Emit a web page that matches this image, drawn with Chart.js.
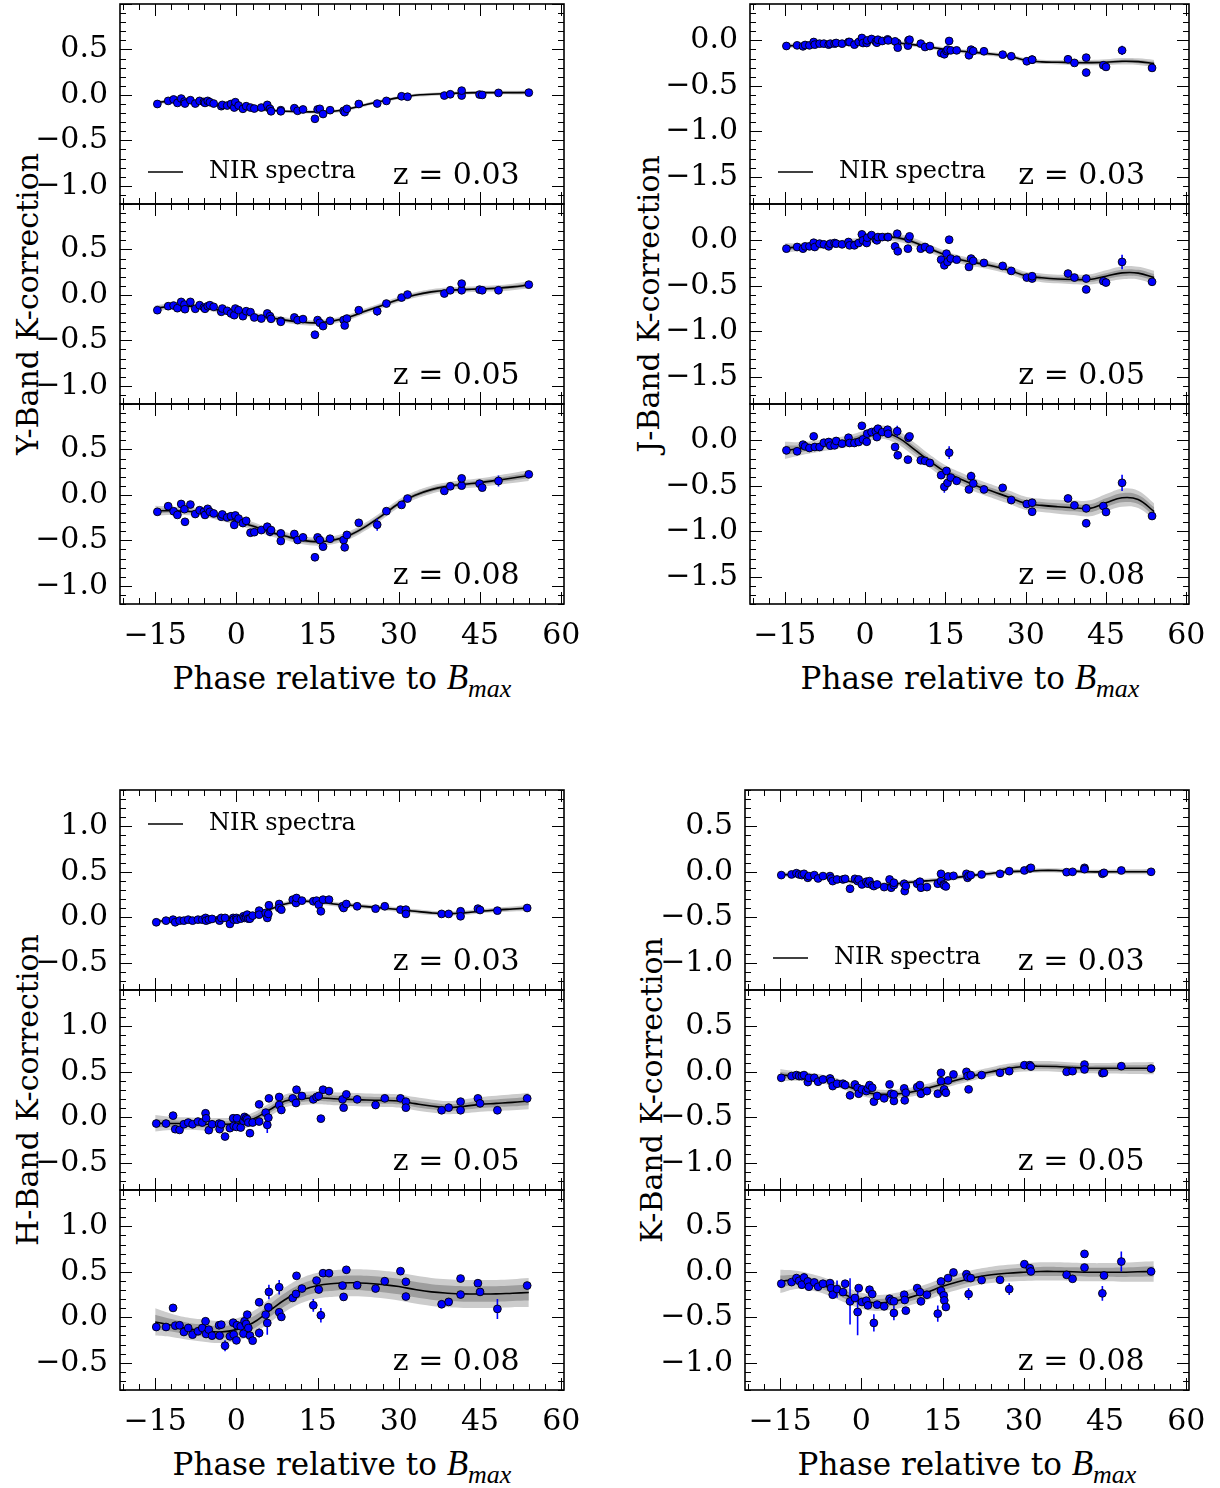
<!DOCTYPE html>
<html>
<head>
<meta charset="utf-8">
<script src="https://cdn.jsdelivr.net/npm/chart.js@4.4.1/dist/chart.umd.min.js"></script>
<style>
  body { margin: 0; background: #fff; width: 1220px; height: 1488px; position: relative; overflow: hidden; font-family: 'DejaVu Serif', serif; }
  canvas { position: absolute; }
  .ylab { position: absolute; font-size: 30px; white-space: nowrap; transform: translate(-50%, -50%) rotate(-90deg); }
  .xlab { position: absolute; font-size: 31px; white-space: nowrap; transform: translate(-50%, -50%); }
  .xlab i { font-family: 'Liberation Serif', serif; font-size: 35px; }
  .xlab sub { font-size: 26px; }
</style>
</head>
<body>
<div class="ylab" style="left:27px;top:304px">Y-Band K-correction</div>
<div class="ylab" style="left:648px;top:304px">J-Band K-correction</div>
<div class="ylab" style="left:27px;top:1090px">H-Band K-correction</div>
<div class="ylab" style="left:651px;top:1090px">K-Band K-correction</div>
<div class="xlab" style="left:342px;top:681px">Phase relative to <i>B<sub>max</sub></i></div>
<div class="xlab" style="left:970px;top:681px">Phase relative to <i>B<sub>max</sub></i></div>
<div class="xlab" style="left:342px;top:1467px">Phase relative to <i>B<sub>max</sub></i></div>
<div class="xlab" style="left:967px;top:1467px">Phase relative to <i>B<sub>max</sub></i></div>
<script>
// tick labels
const xTicks = [-15, 0, 15, 30, 45, 60];
const yTicksY = [-1.0, -0.5, 0.0, 0.5];
const yTicksJ = [-1.5, -1.0, -0.5, 0.0];
const yTicksH = [-0.5, 0.0, 0.5, 1.0];
const yTicksK = [-1.0, -0.5, 0.0, 0.5];

const fitPhase = [-15,-12,-9,-6,-3,0,3,6,9,12,15,18,21,24,27,30,33,36,39,42,45,48,51,54];

// ---------- Y band ----------
const yPhase = [-14.6,-12.6,-11.6,-10.9,-10.2,-9.6,-9.5,-8.5,-7.6,-6.8,-6.0,-5.8,-5.3,-4.9,-4.2,-2.8,-2.6,-1.7,-1.0,-0.4,-0.2,0.4,1.2,1.8,2.6,3.3,4.6,5.7,6.2,6.4,8.2,8.2,10.7,11.3,12.3,14.5,15.0,15.4,16.0,17.3,19.8,20.0,20.4,22.6,26.0,27.7,30.5,31.6,38.4,39.5,41.6,41.6,44.9,45.4,48.4,54.0];
const yK003 = [-0.10,-0.066,-0.05,-0.088,-0.04,-0.073,-0.095,-0.058,-0.095,-0.066,-0.077,-0.088,-0.066,-0.08,-0.095,-0.124,-0.11,-0.117,-0.10,-0.139,-0.08,-0.117,-0.153,-0.124,-0.139,-0.15,-0.139,-0.11,-0.153,-0.18,-0.168,-0.18,-0.146,-0.175,-0.16,-0.263,-0.16,-0.153,-0.21,-0.168,-0.175,-0.19,-0.153,-0.10,-0.095,-0.066,-0.015,-0.02,-0.007,0.007,-0.007,0.047,0.004,0.0,0.022,0.025];
const yK005 = [-0.168,-0.124,-0.117,-0.146,-0.077,-0.106,-0.157,-0.077,-0.153,-0.113,-0.139,-0.153,-0.124,-0.113,-0.131,-0.186,-0.15,-0.175,-0.204,-0.223,-0.15,-0.168,-0.234,-0.179,-0.19,-0.248,-0.26,-0.204,-0.234,-0.263,-0.285,-0.296,-0.248,-0.277,-0.266,-0.438,-0.277,-0.307,-0.343,-0.285,-0.277,-0.336,-0.26,-0.168,-0.179,-0.095,-0.029,0.004,0.015,0.051,0.051,0.124,0.058,0.051,0.051,0.113];
const yK008 = [-0.186,-0.124,-0.18,-0.22,-0.10,-0.157,-0.296,-0.106,-0.21,-0.168,-0.186,-0.22,-0.153,-0.186,-0.204,-0.24,-0.215,-0.248,-0.234,-0.33,-0.226,-0.26,-0.31,-0.285,-0.416,-0.41,-0.387,-0.35,-0.405,-0.387,-0.423,-0.507,-0.43,-0.496,-0.467,-0.686,-0.467,-0.496,-0.569,-0.482,-0.496,-0.577,-0.44,-0.307,-0.328,-0.179,-0.11,-0.04,0.044,0.095,0.102,0.182,0.124,0.08,0.153,0.226];
// visible error bars: [point index, half length]
const yErr003 = [];
const yErr005 = [[44,0.05],[54,0.04]];
const yErr008 = [[19,0.045],[28,0.05],[41,0.04],[44,0.065],[54,0.06]];
const yFit003 = [-0.088,-0.066,-0.07,-0.088,-0.11,-0.13,-0.15,-0.168,-0.18,-0.186,-0.186,-0.18,-0.15,-0.106,-0.066,-0.03,-0.004,0.007,0.015,0.022,0.025,0.025,0.025,0.026];
const yFit005 = [-0.15,-0.124,-0.124,-0.139,-0.168,-0.193,-0.223,-0.248,-0.277,-0.30,-0.307,-0.285,-0.24,-0.175,-0.113,-0.051,0.0,0.033,0.051,0.058,0.066,0.073,0.088,0.11];
const yFit008 = [-0.175,-0.175,-0.18,-0.197,-0.24,-0.285,-0.343,-0.405,-0.453,-0.496,-0.515,-0.496,-0.44,-0.343,-0.223,-0.095,-0.004,0.058,0.095,0.117,0.135,0.16,0.186,0.212];
const yIn003  = [0.010,0.009,0.009,0.009,0.009,0.009,0.009,0.009,0.009,0.009,0.009,0.009,0.009,0.009,0.009,0.009,0.009,0.009,0.009,0.009,0.009,0.010,0.010,0.011];
const yOut003 = [0.020,0.018,0.018,0.018,0.018,0.018,0.018,0.018,0.018,0.018,0.018,0.018,0.018,0.018,0.018,0.018,0.018,0.018,0.018,0.018,0.018,0.019,0.020,0.022];
const yIn005  = [0.018,0.015,0.015,0.015,0.015,0.015,0.015,0.015,0.015,0.015,0.015,0.015,0.015,0.015,0.015,0.015,0.015,0.015,0.015,0.015,0.016,0.017,0.018,0.020];
const yOut005 = [0.036,0.030,0.030,0.030,0.030,0.030,0.030,0.030,0.030,0.030,0.030,0.030,0.030,0.030,0.030,0.030,0.030,0.030,0.030,0.031,0.032,0.034,0.036,0.040];
const yIn008  = [0.028,0.022,0.022,0.022,0.022,0.022,0.022,0.022,0.022,0.022,0.022,0.022,0.022,0.022,0.022,0.022,0.022,0.022,0.022,0.023,0.024,0.026,0.028,0.030];
const yOut008 = [0.055,0.044,0.044,0.044,0.044,0.044,0.044,0.044,0.044,0.044,0.044,0.044,0.044,0.044,0.044,0.044,0.044,0.044,0.044,0.046,0.048,0.052,0.056,0.060];

// ---------- J band ----------
const jPhase = [-14.7,-12.7,-11.6,-11.2,-10.4,-9.6,-9.4,-8.5,-7.7,-6.8,-6.5,-5.7,-5.4,-4.3,-3.1,-2.9,-2.0,-1.2,-0.6,-0.4,0.3,0.4,1.2,2.0,2.2,2.4,3.2,4.2,4.3,6.0,5.6,6.1,8.0,8.1,8.3,10.4,11.2,12.1,14.2,14.8,15.2,15.4,15.7,16.0,17.1,19.4,19.8,20.2,22.2,25.7,27.3,30.2,31.2,31.2,37.9,39.1,41.3,41.3,44.5,45.0,48.0,53.6];
const jK003 = [-0.062,-0.055,-0.066,-0.051,-0.055,-0.018,-0.047,-0.036,-0.036,-0.047,-0.036,-0.036,-0.029,-0.036,-0.018,-0.018,-0.047,-0.018,0.026,-0.029,-0.029,0.0,0.015,-0.015,-0.026,0.007,-0.007,0.011,0.0,-0.029,-0.011,-0.08,-0.058,0.0,0.007,-0.036,-0.073,-0.062,-0.139,-0.153,-0.117,-0.102,-0.007,-0.11,-0.11,-0.164,-0.102,-0.117,-0.12,-0.157,-0.175,-0.23,-0.212,-0.212,-0.208,-0.248,-0.19,-0.354,-0.274,-0.292,-0.11,-0.303];
const jK005 = [-0.091,-0.073,-0.091,-0.066,-0.066,-0.026,-0.073,-0.036,-0.044,-0.066,-0.036,-0.029,-0.036,-0.044,-0.018,-0.055,-0.055,-0.029,0.066,0.0,-0.029,0.029,0.058,0.011,0.0,0.036,0.036,0.036,0.036,0.073,-0.066,-0.12,-0.091,0.018,0.044,-0.091,-0.073,-0.10,-0.212,-0.274,-0.146,-0.237,0.007,-0.20,-0.212,-0.292,-0.20,-0.226,-0.248,-0.281,-0.336,-0.409,-0.42,-0.394,-0.365,-0.409,-0.42,-0.54,-0.449,-0.464,-0.237,-0.456];
const jK008 = [-0.11,-0.12,-0.047,-0.066,-0.084,0.044,-0.073,-0.073,-0.026,-0.018,-0.058,-0.055,-0.007,-0.036,0.029,-0.029,-0.029,-0.018,0.16,0.011,-0.015,0.073,0.091,0.10,0.036,0.128,0.091,0.117,0.073,0.10,-0.073,-0.164,-0.212,0.029,0.044,-0.219,-0.226,-0.248,-0.383,-0.511,-0.336,-0.467,-0.135,-0.409,-0.445,-0.54,-0.394,-0.474,-0.54,-0.522,-0.657,-0.70,-0.686,-0.785,-0.639,-0.715,-0.748,-0.912,-0.723,-0.788,-0.467,-0.832];
const jErr003 = [[60,0.05]];
const jErr005 = [[29,0.02],[60,0.08]];
const jErr008 = [[29,0.06],[39,0.065],[42,0.07],[46,0.05],[49,0.025],[60,0.09]];
const jFit003 = [-0.062,-0.055,-0.044,-0.036,-0.026,-0.011,-0.018,-0.029,-0.047,-0.073,-0.10,-0.12,-0.135,-0.153,-0.175,-0.219,-0.237,-0.241,-0.245,-0.245,-0.241,-0.23,-0.234,-0.255];
const jFit005 = [-0.084,-0.073,-0.058,-0.044,-0.025,0.0,0.036,0.03,-0.018,-0.09,-0.16,-0.215,-0.25,-0.285,-0.33,-0.39,-0.412,-0.425,-0.43,-0.43,-0.394,-0.358,-0.36,-0.409];
const jFit008 = [-0.11,-0.091,-0.066,-0.036,-0.007,0.044,0.091,0.036,-0.091,-0.226,-0.347,-0.43,-0.504,-0.566,-0.628,-0.693,-0.715,-0.73,-0.741,-0.748,-0.686,-0.631,-0.65,-0.785];
const jIn003  = [0.013,0.011,0.011,0.011,0.011,0.011,0.011,0.011,0.011,0.011,0.011,0.011,0.011,0.011,0.011,0.011,0.012,0.012,0.013,0.014,0.016,0.018,0.018,0.020];
const jOut003 = [0.026,0.022,0.022,0.022,0.022,0.022,0.022,0.022,0.022,0.022,0.022,0.022,0.022,0.022,0.022,0.022,0.024,0.024,0.026,0.028,0.032,0.036,0.036,0.040];
const jIn005  = [0.026,0.020,0.020,0.020,0.020,0.020,0.022,0.022,0.022,0.022,0.022,0.022,0.022,0.022,0.022,0.022,0.024,0.024,0.026,0.028,0.032,0.036,0.036,0.038];
const jOut005 = [0.052,0.040,0.040,0.040,0.040,0.040,0.044,0.044,0.044,0.044,0.044,0.044,0.044,0.044,0.044,0.044,0.048,0.048,0.052,0.056,0.064,0.070,0.070,0.075];
const jIn008  = [0.050,0.036,0.032,0.032,0.032,0.034,0.036,0.038,0.038,0.036,0.036,0.036,0.036,0.036,0.036,0.036,0.036,0.038,0.040,0.044,0.048,0.050,0.050,0.050];
const jOut008 = [0.095,0.072,0.064,0.064,0.064,0.068,0.072,0.076,0.076,0.073,0.073,0.073,0.073,0.073,0.073,0.073,0.073,0.076,0.080,0.088,0.095,0.100,0.095,0.090];

// ---------- H band ----------
const hPhase = [-14.8,-13.0,-11.7,-11.3,-10.5,-9.7,-8.9,-8.1,-7.1,-6.3,-5.7,-5.6,-5.1,-4.5,-3.2,-3.1,-2.8,-2.1,-1.2,-0.6,-0.5,0.0,0.1,0.8,1.3,1.5,1.8,2.0,2.2,2.5,3.0,4.2,4.2,5.4,5.7,5.9,6.0,7.9,7.9,8.3,10.4,11.0,11.1,12.1,14.2,14.8,15.2,15.6,16.0,17.1,19.6,19.8,20.3,22.3,25.7,27.4,30.3,31.3,31.3,37.9,39.2,41.4,41.4,44.6,45.0,48.2,53.7];
const hK003 = [-0.055,-0.037,-0.026,-0.055,-0.037,-0.037,-0.026,-0.037,-0.026,-0.026,-0.007,-0.037,-0.026,-0.018,-0.026,-0.037,-0.007,-0.007,-0.073,-0.007,-0.026,-0.007,-0.026,-0.015,0.011,-0.007,0.0,0.029,-0.015,-0.015,0.018,0.073,0.029,0.048,-0.007,0.037,0.132,0.146,0.102,0.084,0.194,0.157,0.212,0.183,0.176,0.183,0.139,0.066,0.194,0.194,0.121,0.102,0.146,0.121,0.095,0.121,0.084,0.084,0.037,0.037,0.037,0.066,0.011,0.095,0.08,0.073,0.102];
const hK005 = [-0.069,-0.069,0.018,-0.131,-0.139,-0.077,-0.058,-0.077,-0.047,-0.058,0.044,-0.011,-0.142,-0.077,-0.069,-0.131,-0.077,-0.212,-0.12,-0.011,-0.095,-0.106,-0.011,-0.113,-0.04,0.004,-0.011,-0.022,-0.058,-0.175,-0.058,0.142,-0.047,0.051,-0.084,-0.004,0.208,0.223,0.135,0.08,0.208,0.157,0.303,0.234,0.197,0.223,0.234,-0.015,0.303,0.288,0.197,0.106,0.252,0.197,0.135,0.208,0.208,0.172,0.106,0.077,0.106,0.172,0.077,0.208,0.153,0.077,0.208];
const hK008 = [-0.107,-0.107,0.103,-0.092,-0.088,-0.162,-0.118,-0.191,-0.154,-0.118,-0.044,-0.184,-0.136,-0.202,-0.088,-0.202,-0.081,-0.313,-0.21,-0.059,-0.191,-0.254,-0.088,-0.099,-0.18,-0.044,-0.074,0.029,-0.118,-0.202,-0.257,0.165,-0.173,0.029,-0.063,0.11,0.279,0.331,0.055,0.004,0.213,0.257,0.456,0.316,0.132,0.404,0.305,0.022,0.485,0.485,0.349,0.224,0.522,0.353,0.316,0.397,0.507,0.39,0.228,0.143,0.169,0.426,0.25,0.375,0.279,0.092,0.349];
const hErr003 = [[34,0.04]];
const hErr005 = [[34,0.09],[65,0.04]];
const hErr008 = [[13,0.04],[17,0.06],[32,0.05],[34,0.13],[36,0.08],[37,0.08],[39,0.04],[44,0.07],[45,0.04],[46,0.04],[47,0.08],[51,0.04],[54,0.03],[65,0.11]];
const hFit003 = [-0.044,-0.037,-0.026,-0.018,-0.007,0.0,0.022,0.084,0.146,0.176,0.168,0.146,0.132,0.117,0.102,0.084,0.066,0.048,0.04,0.048,0.066,0.08,0.091,0.102];
const hFit005 = [-0.066,-0.069,-0.069,-0.077,-0.077,-0.069,-0.022,0.077,0.179,0.204,0.215,0.204,0.197,0.19,0.186,0.179,0.15,0.124,0.106,0.12,0.142,0.153,0.164,0.179];
const hFit008 = [-0.051,-0.088,-0.125,-0.147,-0.162,-0.136,-0.063,0.066,0.195,0.294,0.349,0.371,0.379,0.375,0.36,0.338,0.305,0.279,0.265,0.257,0.257,0.257,0.265,0.272];
const hIn003  = [0.013,0.011,0.011,0.011,0.011,0.011,0.011,0.012,0.012,0.012,0.012,0.012,0.012,0.012,0.012,0.012,0.012,0.012,0.012,0.012,0.012,0.013,0.014,0.015];
const hOut003 = [0.026,0.022,0.022,0.022,0.022,0.022,0.022,0.024,0.024,0.024,0.024,0.024,0.024,0.024,0.024,0.024,0.024,0.024,0.024,0.024,0.024,0.026,0.028,0.030];
const hIn005  = [0.045,0.036,0.034,0.034,0.034,0.034,0.036,0.036,0.036,0.036,0.036,0.036,0.036,0.036,0.036,0.036,0.036,0.036,0.036,0.038,0.040,0.042,0.044,0.046];
const hOut005 = [0.090,0.072,0.068,0.068,0.068,0.068,0.072,0.072,0.072,0.072,0.072,0.072,0.072,0.072,0.072,0.072,0.072,0.072,0.072,0.076,0.080,0.084,0.088,0.092];
const hIn008  = [0.080,0.068,0.065,0.065,0.065,0.065,0.068,0.070,0.072,0.074,0.076,0.078,0.080,0.082,0.084,0.085,0.085,0.085,0.085,0.085,0.085,0.085,0.085,0.088];
const hOut008 = [0.150,0.128,0.122,0.122,0.122,0.122,0.126,0.130,0.134,0.138,0.142,0.145,0.148,0.150,0.152,0.154,0.154,0.154,0.154,0.154,0.154,0.154,0.154,0.160];

// ---------- K band ----------
const kPhase = [-14.8,-12.9,-12.0,-11.5,-11.0,-10.6,-9.9,-9.7,-8.7,-8.0,-7.1,-5.8,-5.6,-5.3,-4.5,-3.4,-3.0,-2.1,-1.2,-0.7,-0.5,0.1,0.9,1.2,1.5,2.0,2.3,2.9,4.2,5.2,5.5,6.0,6.0,7.9,8.0,8.2,10.3,10.8,11.0,12.1,14.1,14.7,14.7,15.2,15.3,15.6,16.0,17.0,19.4,19.6,19.8,20.2,22.2,25.6,27.3,30.1,31.1,31.3,37.9,39.0,41.2,41.2,44.5,44.8,48.0,53.5];
const kK003 = [-0.036,-0.029,-0.015,-0.029,-0.036,-0.022,-0.066,-0.047,-0.036,-0.073,-0.047,-0.047,-0.073,-0.102,-0.084,-0.084,-0.077,-0.186,-0.077,-0.102,-0.084,-0.139,-0.109,-0.131,-0.102,-0.146,-0.157,-0.139,-0.168,-0.084,-0.175,-0.146,-0.12,-0.131,-0.212,-0.157,-0.131,-0.109,-0.175,-0.168,-0.131,-0.102,-0.022,-0.139,-0.15,-0.161,-0.051,-0.044,-0.022,-0.066,-0.047,-0.036,-0.029,-0.022,0.007,0.015,0.036,0.044,-0.004,0.0,0.044,0.029,-0.022,-0.011,0.015,0.0];
const kK005 = [-0.066,-0.047,-0.036,-0.047,-0.047,-0.036,-0.113,-0.066,-0.066,-0.109,-0.084,-0.073,-0.102,-0.157,-0.131,-0.131,-0.146,-0.259,-0.139,-0.175,-0.241,-0.193,-0.212,-0.182,-0.146,-0.175,-0.328,-0.266,-0.292,-0.139,-0.241,-0.321,-0.248,-0.182,-0.314,-0.23,-0.168,-0.146,-0.241,-0.212,-0.241,-0.102,-0.011,-0.204,-0.193,-0.23,-0.095,-0.029,0.0,-0.047,-0.193,-0.036,-0.036,-0.011,0.007,0.073,0.073,0.058,0.0,0.007,0.08,0.026,-0.015,-0.011,0.062,0.036];
const kK008 = [-0.131,-0.113,-0.069,-0.099,-0.142,-0.062,-0.106,-0.164,-0.117,-0.164,-0.131,-0.124,-0.179,-0.252,-0.19,-0.223,-0.131,-0.325,-0.288,-0.442,-0.179,-0.332,-0.318,-0.369,-0.197,-0.245,-0.562,-0.361,-0.38,-0.296,-0.318,-0.453,-0.325,-0.252,-0.31,-0.427,-0.179,-0.223,-0.325,-0.252,-0.46,-0.208,-0.106,-0.259,-0.314,-0.387,-0.069,-0.007,-0.026,-0.062,-0.245,-0.069,-0.091,-0.088,-0.19,0.084,0.04,0.004,-0.033,-0.077,0.047,0.197,-0.237,-0.04,0.113,0.004];
const kErr003 = [];
const kErr005 = [[20,0.03],[50,0.03],[26,0.03]];
const kErr008 = [[5,0.03],[12,0.065],[14,0.095],[17,0.255],[19,0.255],[26,0.095],[31,0.08],[40,0.09],[50,0.065],[54,0.065],[62,0.08],[64,0.11]];
const kFit003 = [-0.029,-0.036,-0.047,-0.066,-0.095,-0.128,-0.142,-0.135,-0.115,-0.10,-0.084,-0.058,-0.036,-0.018,0.0,0.007,0.015,0.015,0.007,0.0,0.0,0.0,0.0,0.0];
const kFit005 = [-0.036,-0.047,-0.066,-0.095,-0.15,-0.215,-0.245,-0.245,-0.225,-0.185,-0.135,-0.085,-0.04,0.0,0.036,0.058,0.062,0.058,0.047,0.04,0.04,0.04,0.04,0.04];
const kFit008 = [-0.106,-0.088,-0.117,-0.172,-0.252,-0.318,-0.343,-0.325,-0.281,-0.226,-0.16,-0.106,-0.062,-0.033,-0.015,-0.004,0.004,0.004,0.0,-0.004,-0.004,-0.004,0.0,0.004];
const kIn003  = [0.014,0.012,0.012,0.012,0.012,0.012,0.012,0.012,0.012,0.012,0.012,0.012,0.012,0.012,0.012,0.012,0.012,0.012,0.012,0.012,0.012,0.013,0.014,0.015];
const kOut003 = [0.028,0.024,0.024,0.024,0.024,0.024,0.024,0.024,0.024,0.024,0.024,0.024,0.024,0.024,0.024,0.024,0.024,0.024,0.024,0.024,0.024,0.026,0.028,0.030];
const kIn005  = [0.034,0.026,0.025,0.025,0.025,0.025,0.025,0.025,0.025,0.025,0.025,0.025,0.025,0.025,0.026,0.027,0.028,0.028,0.028,0.028,0.029,0.030,0.032,0.034];
const kOut005 = [0.068,0.052,0.050,0.050,0.050,0.050,0.050,0.050,0.050,0.050,0.050,0.050,0.050,0.050,0.052,0.054,0.056,0.056,0.056,0.056,0.058,0.060,0.064,0.068];
const kIn008  = [0.065,0.052,0.046,0.044,0.044,0.044,0.044,0.044,0.044,0.044,0.044,0.044,0.044,0.045,0.046,0.048,0.050,0.050,0.050,0.050,0.050,0.052,0.054,0.056];
const kOut008 = [0.128,0.100,0.090,0.088,0.088,0.088,0.088,0.088,0.088,0.088,0.088,0.088,0.088,0.090,0.092,0.096,0.100,0.100,0.100,0.100,0.100,0.104,0.108,0.112];

// ---------- panel layout ----------
const PAD_L = 120, PAD_R = 40, PAD_T = 40, PAD_B = 60;
const FONT = 'DejaVu Serif';

const panels = [
  {left:120, top:4,   w:444, ph:yPhase, k:yK003, err:yErr003, fit:yFit003, inn:yIn003, out:yOut003, z:'0.03', ymin:-1.2, ymax:1.0, yt:yTicksY, legend:'bottom'},
  {left:120, top:204, w:444, ph:yPhase, k:yK005, err:yErr005, fit:yFit005, inn:yIn005, out:yOut005, z:'0.05', ymin:-1.2, ymax:1.0, yt:yTicksY},
  {left:120, top:404, w:444, ph:yPhase, k:yK008, err:yErr008, fit:yFit008, inn:yIn008, out:yOut008, z:'0.08', ymin:-1.2, ymax:1.0, yt:yTicksY, xlab:true},
  {left:750, top:4,   w:439, ph:jPhase, k:jK003, err:jErr003, fit:jFit003, inn:jIn003, out:jOut003, z:'0.03', ymin:-1.8, ymax:0.4, yt:yTicksJ, legend:'bottom'},
  {left:750, top:204, w:439, ph:jPhase, k:jK005, err:jErr005, fit:jFit005, inn:jIn005, out:jOut005, z:'0.05', ymin:-1.8, ymax:0.4, yt:yTicksJ},
  {left:750, top:404, w:439, ph:jPhase, k:jK008, err:jErr008, fit:jFit008, inn:jIn008, out:jOut008, z:'0.08', ymin:-1.8, ymax:0.4, yt:yTicksJ, xlab:true},
  {left:120, top:790, w:444, ph:hPhase, k:hK003, err:hErr003, fit:hFit003, inn:hIn003, out:hOut003, z:'0.03', ymin:-0.8, ymax:1.4, yt:yTicksH, legend:'top'},
  {left:120, top:990, w:444, ph:hPhase, k:hK005, err:hErr005, fit:hFit005, inn:hIn005, out:hOut005, z:'0.05', ymin:-0.8, ymax:1.4, yt:yTicksH},
  {left:120, top:1190,w:444, ph:hPhase, k:hK008, err:hErr008, fit:hFit008, inn:hIn008, out:hOut008, z:'0.08', ymin:-0.8, ymax:1.4, yt:yTicksH, xlab:true},
  {left:745, top:790, w:444, ph:kPhase, k:kK003, err:kErr003, fit:kFit003, inn:kIn003, out:kOut003, z:'0.03', ymin:-1.3, ymax:0.9, yt:yTicksK, legend:'bottom'},
  {left:745, top:990, w:444, ph:kPhase, k:kK005, err:kErr005, fit:kFit005, inn:kIn005, out:kOut005, z:'0.05', ymin:-1.3, ymax:0.9, yt:yTicksK},
  {left:745, top:1190,w:444, ph:kPhase, k:kK008, err:kErr008, fit:kFit008, inn:kIn008, out:kOut008, z:'0.08', ymin:-1.3, ymax:0.9, yt:yTicksK, xlab:true}
];

const minus = v => (v < 0 ? '\u2212' : '');

// frame, inward ticks on all four sides, z label and legend
const framePlugin = {
  id: 'frame',
  afterDatasetsDraw(chart, args, opts) {
    const p = opts.panel;
    const ctx = chart.ctx, ca = chart.chartArea;
    const xs = chart.scales.x, ys = chart.scales.y;
    ctx.save();
    ctx.strokeStyle = '#000';
    ctx.lineWidth = 1;
    ctx.beginPath();
    for (let v = -21; v <= 60; v += 3) {
      const px = Math.round(xs.getPixelForValue(v)) + 0.5;
      const len = (v % 15 === 0) ? 12 : 6;
      ctx.moveTo(px, ca.bottom); ctx.lineTo(px, ca.bottom - len);
      ctx.moveTo(px, ca.top); ctx.lineTo(px, ca.top + len);
    }
    for (let i = Math.ceil(p.ymin * 10); i <= Math.floor(p.ymax * 10); i++) {
      const py = Math.round(ys.getPixelForValue(i / 10)) + 0.5;
      const len = (i % 5 === 0) ? 12 : 6;
      ctx.moveTo(ca.left, py); ctx.lineTo(ca.left + len, py);
      ctx.moveTo(ca.right, py); ctx.lineTo(ca.right - len, py);
    }
    ctx.stroke();
    ctx.lineWidth = 1.6;
    ctx.strokeRect(ca.left, ca.top, ca.right - ca.left, ca.bottom - ca.top);

    ctx.fillStyle = '#000';
    ctx.font = '30px "' + FONT + '"';
    ctx.textAlign = 'right';
    ctx.textBaseline = 'alphabetic';
    ctx.fillText('z = ' + p.z, ca.left + 0.9 * (ca.right - ca.left), ca.bottom - 0.1 * (ca.bottom - ca.top));

    if (p.legend) {
      const ly = p.legend === 'top' ? ca.top + 34 : ca.top + 168;
      ctx.lineWidth = 1.6;
      ctx.beginPath();
      ctx.moveTo(ca.left + 28, ly); ctx.lineTo(ca.left + 63, ly);
      ctx.stroke();
      ctx.font = '24px "' + FONT + '"';
      ctx.textAlign = 'left';
      ctx.textBaseline = 'middle';
      ctx.fillText('NIR spectra', ca.left + 89, ly);
    }
    ctx.restore();
  }
};

function makePanel(p) {
  const H = 200;
  const cv = document.createElement('canvas');
  cv.width = p.w + PAD_L + PAD_R;
  cv.height = H + PAD_T + PAD_B;
  cv.style.left = (p.left - PAD_L) + 'px';
  cv.style.top = (p.top - PAD_T) + 'px';
  document.body.appendChild(cv);

  const curve = (sign, widths) => fitPhase.map((x, i) => ({x: x, y: p.fit[i] + sign * widths[i]}));
  const errSeg = [];
  p.err.forEach(([i, e]) => {
    errSeg.push({x: p.ph[i], y: p.k[i] - e}, {x: p.ph[i], y: p.k[i] + e}, {x: p.ph[i], y: null});
  });
  const band = {type: 'line', borderWidth: 0, pointRadius: 0, tension: 0.4};

  // lower "order" is drawn on top
  new Chart(cv, {
    type: 'scatter',
    data: {
      datasets: [
        Object.assign({data: curve(1, p.out), fill: '+1', backgroundColor: 'rgb(204,204,204)', order: 7}, band),
        Object.assign({data: curve(-1, p.out), fill: false, order: 6}, band),
        Object.assign({data: curve(1, p.inn), fill: '+1', backgroundColor: 'rgb(158,158,158)', order: 5}, band),
        Object.assign({data: curve(-1, p.inn), fill: false, order: 4}, band),
        {type: 'line', data: curve(0, p.inn), borderColor: '#000', borderWidth: 1.6, pointRadius: 0, tension: 0.4, fill: false, order: 3},
        {type: 'line', data: errSeg, borderColor: '#0000ff', borderWidth: 1.6, pointRadius: 0, spanGaps: false, fill: false, order: 2},
        {data: p.ph.map((x, i) => ({x: x, y: p.k[i]})), pointRadius: 3.9, backgroundColor: '#0000ff', borderColor: '#000', borderWidth: 0.9, order: 1}
      ]
    },
    options: {
      responsive: false,
      animation: false,
      events: [],
      layout: {padding: {top: PAD_T, right: PAD_R, left: 0, bottom: 0}},
      plugins: {legend: {display: false}, tooltip: {enabled: false}, frame: {panel: p}},
      scales: {
        x: {
          type: 'linear', min: -21.5, max: 60.5,
          grid: {display: false, drawTicks: false}, border: {display: false},
          afterBuildTicks: s => { s.ticks = xTicks.map(v => ({value: v})); },
          afterFit: s => { s.height = PAD_B; },
          ticks: {display: !!p.xlab, autoSkip: false, maxRotation: 0, padding: 14, color: '#000',
                  font: {family: FONT, size: 30},
                  callback: v => minus(v) + Math.abs(v)}
        },
        y: {
          type: 'linear', min: p.ymin, max: p.ymax,
          grid: {display: false, drawTicks: false}, border: {display: false},
          afterBuildTicks: s => { s.ticks = p.yt.map(v => ({value: v})); },
          afterFit: s => { s.width = PAD_L; },
          ticks: {padding: 12, color: '#000', font: {family: FONT, size: 30},
                  callback: v => minus(v) + Math.abs(v).toFixed(1)}
        }
      }
    },
    plugins: [framePlugin]
  });
}

panels.forEach(makePanel);
</script>
</body>
</html>
